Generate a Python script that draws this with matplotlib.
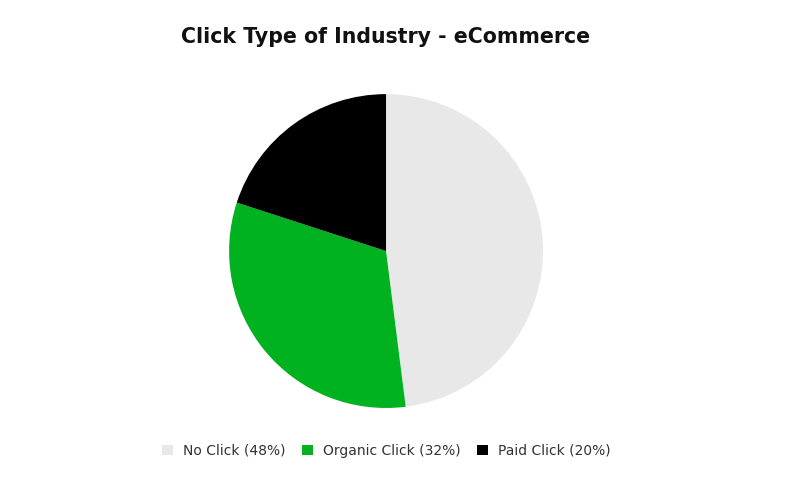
import matplotlib
matplotlib.use("Agg")
import matplotlib.pyplot as plt

labels = ["No Click (48%)", "Organic Click (32%)", "Paid Click (20%)"]
values = [48, 32, 20]
colors = ["#e8e8e8", "#00b21f", "#000000"]

fig = plt.figure(figsize=(7.9, 4.99), dpi=100)
ax = fig.add_axes([0.2899, 0.1824, 0.3975, 0.629])
wedges, _ = ax.pie(values, colors=colors, startangle=90, counterclock=False,
                   wedgeprops=dict(linewidth=0))
ax.set_xlim(-1, 1)
ax.set_ylim(-1, 1)
ax.set_aspect("equal")

fig.text(386 / 790, 1 - 37 / 499, "Click Type of Industry - eCommerce",
         ha="center", va="center", fontsize=14.8, fontweight="bold", color="#111111")

fig.legend(wedges, labels, loc="center", bbox_to_anchor=(386 / 790, 1 - 451 / 499),
           ncol=3, frameon=False, fontsize=10, handlelength=0.8, handleheight=0.8,
           handletextpad=0.7, columnspacing=1.2, labelcolor="#333333")

fig.savefig("out.png", dpi=100)
